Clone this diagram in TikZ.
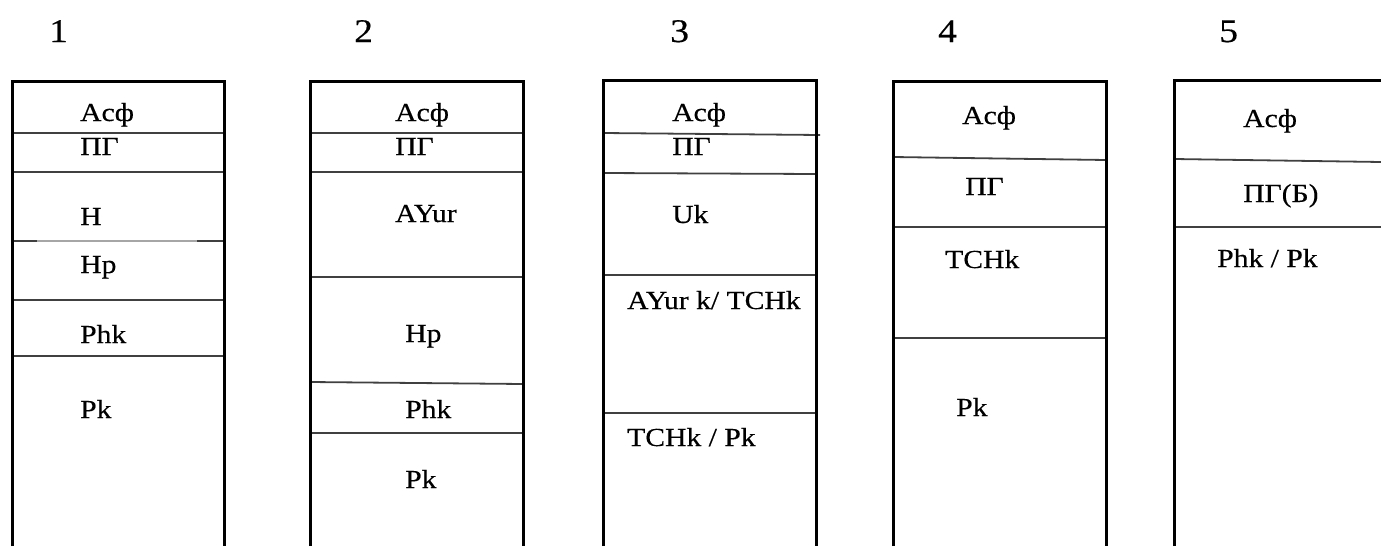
\documentclass[tikz,border=0pt]{standalone}
\usepackage{fontspec}
\setmainfont{Liberation Serif}[FakeStretch=1.14,FakeBold=0.4]
\begin{document}
\begin{tikzpicture}[x=1pt,y=-1pt,
  frame/.style={line width=3pt,black},
  layer/.style={line width=1.8pt,black!75},
  lbl/.style={anchor=base west,inner sep=0pt,font=\fontsize{26}{28}\selectfont},
  num/.style={anchor=base west,inner sep=0pt,font=\fontsize{33}{36}\selectfont}]
\useasboundingbox (0,0) rectangle (1381,546);

% column numbers
\node[num] (n1) at (49,42) {1};
\node[num] (n2) at (354,42) {2};
\node[num] (n3) at (670,42) {3};
\node[num] (n4) at (938,42) {4};
\node[num] (n5) at (1219,42) {5};

% ---- section 1 ----
\draw[layer] (12,133) -- (224,133);
\draw[layer] (12,172) -- (224,172);
\draw[layer] (12,241) -- (37,241);
\draw[line width=1.4pt,black!35] (37,241) -- (197,241);
\draw[layer] (197,241) -- (224,241);
\draw[layer] (12,300) -- (224,300);
\draw[layer] (12,356) -- (224,356);
\draw[frame] (12,546) -- (12,81) -- (224,81) -- (224,546);
\node[lbl] (a1) at (80,121) {Acф};
\node[lbl] (p1) at (80,155) {ПГ};
\node[lbl] (h1) at (80,225) {H};
\node[lbl] (hp1) at (80,273) {Hp};
\node[lbl] (phk1) at (80,343) {Phk};
\node[lbl] (pk1) at (80,418) {Pk};

% ---- section 2 ----
\draw[layer] (310,133) -- (523,133);
\draw[layer] (310,172) -- (523,172);
\draw[layer] (310,277) -- (523,277);
\draw[layer] (310,382) -- (523,384);
\draw[layer] (310,433) -- (523,433);
\draw[frame] (310,546) -- (310,81) -- (523,81) -- (523,546);
\node[lbl] (a2) at (395,121) {Acф};
\node[lbl] (p2) at (395,155) {ПГ};
\node[lbl] (ay2) at (395,222) {AYur};
\node[lbl] (hp2) at (405,342) {Hp};
\node[lbl] (phk2) at (405,418) {Phk};
\node[lbl] (pk2) at (405,488) {Pk};

% ---- section 3 ----
\draw[layer] (603,133) -- (820,135);
\draw[layer] (603,173) -- (816,174);
\draw[layer] (603,275) -- (818,275);
\draw[layer] (603,413) -- (818,413);
\draw[frame] (603,546) -- (603,80) -- (816,80) -- (816,546);
\node[lbl] (a3) at (672,121) {Acф};
\node[lbl] (p3) at (672,155) {ПГ};
\node[lbl] (uk3) at (672,223) {Uk};
\node[lbl] (ay3) at (627,309) {AYur k/ TCHk};
\node[lbl] (tc3) at (627,446) {TCHk / Pk};

% ---- section 4 ----
\draw[layer] (893,157) -- (1106,160);
\draw[layer] (893,227) -- (1106,227);
\draw[layer] (893,338) -- (1106,338);
\draw[frame] (893,546) -- (893,81) -- (1106,81) -- (1106,546);
\node[lbl] (a4) at (962,124) {Acф};
\node[lbl] (p4) at (965,195) {ПГ};
\node[lbl] (tc4) at (945,268) {TCHk};
\node[lbl] (pk4) at (956,416) {Pk};

% ---- section 5 (open to the right) ----
\draw[layer] (1174,159) -- (1381,162);
\draw[layer] (1174,227) -- (1381,227);
\draw[frame] (1174,546) -- (1174,80) -- (1381,80);
\node[lbl] (a5) at (1243,127) {Acф};
\node[lbl] (p5) at (1243,202) {ПГ(Б)};
\node[lbl] (ph5) at (1217,267) {Phk / Pk};
\end{tikzpicture}
\end{document}
